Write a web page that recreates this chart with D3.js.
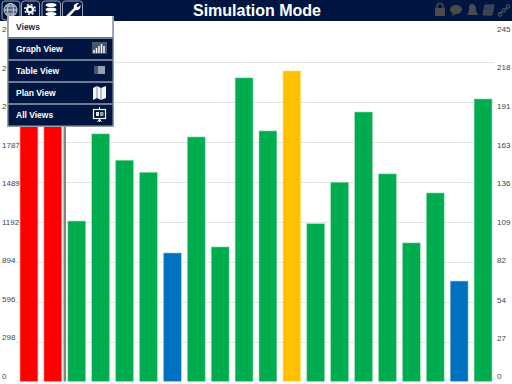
<!DOCTYPE html>
<html>
<head>
<meta charset="utf-8">
<script src="https://d3js.org/d3.v7.min.js"></script>
<style>
  html, body { margin: 0; padding: 0; background: #fff; overflow: hidden; }
  svg { display: block; font-family: "Liberation Sans", Arial, sans-serif; }
</style>
</head>
<body>
<script>
// Chart values
const bins = d3.range(1, 21);
const values = [2700, 2700, 1199, 1848, 1652, 1562, 961, 1825, 1006, 2265, 1870, 2317, 1179, 1488, 2011, 1550, 1036, 1408, 752, 2108];
const states = ["alarm", "alarm", "ok", "ok", "ok", "ok", "low", "ok", "ok", "ok", "ok", "warn", "ok", "ok", "ok", "ok", "ok", "ok", "low", "ok"];
const leftTicks = [0, 298, 596, 894, 1192, 1489, 1787, 2085, 2383, 2681];
const rightTicks = [0, 27, 54, 82, 109, 136, 163, 191, 218, 245];
const menuItems = ["Graph View", "Table View", "Plan View", "All Views"];

const width = 512, height = 384;
const navy = "#001641";

const svg = d3.select("body").append("svg")
  .attr("width", width)
  .attr("height", height);

// Scales
const x = d3.scaleBand().domain(bins).range([20, 492]).paddingInner(0.25).paddingOuter(0);
const y = d3.scaleLinear().domain([0, 2681]).range([382, 22]);
const color = d3.scaleOrdinal()
  .domain(["alarm", "ok", "low", "warn"])
  .range(["#ff0000", "#00ad4e", "#0070c0", "#ffc000"]);
const edge = d3.scaleOrdinal()
  .domain(["alarm", "ok", "low", "warn"])
  .range(["#ffb0b0", "#a6dfbd", "#b0cfee", "#ffeeb8"]);

// The tick labels do not sit on the gridlines in the original, they have their own spacing
const labelLeft = d3.scaleLinear().domain([0, 2681]).range([376, 29]);
const labelRight = d3.scaleLinear().domain([0, 245]).range([376, 29]);

// Gridlines
svg.append("g")
  .attr("transform", "translate(16,0)")
  .call(d3.axisRight(y).tickValues(leftTicks.slice(1, -1)).tickSize(478).tickFormat(""))
  .call(g => g.select(".domain").remove())
  .selectAll("line")
  .attr("stroke", "#e3e3e3")
  .attr("stroke-width", 1);

// Axis labels
svg.append("g")
  .call(d3.axisRight(labelLeft).tickValues(leftTicks).tickSize(0).tickPadding(2).tickFormat(d3.format("d")))
  .call(g => g.select(".domain").remove())
  .selectAll("text")
  .attr("font-size", 8)
  .attr("font-family", "Liberation Sans")
  .attr("fill", "#444");

svg.append("g")
  .call(d3.axisRight(labelRight).tickValues(rightTicks).tickSize(0).tickPadding(497).tickFormat(d3.format("d")))
  .call(g => g.select(".domain").remove())
  .selectAll("text")
  .attr("font-size", 8)
  .attr("font-family", "Liberation Sans")
  .attr("fill", "#444");

// Bars
svg.append("g").selectAll("rect")
  .data(bins)
  .join("rect")
  .attr("x", d => x(d))
  .attr("y", (d, i) => y(values[i]))
  .attr("width", x.bandwidth())
  .attr("height", (d, i) => y(0) - y(values[i]) - 0.5)
  .attr("fill", (d, i) => color(states[i]))
  .attr("stroke", (d, i) => edge(states[i]))
  .attr("stroke-width", 0.6);

// Divider after the second bar
svg.append("rect")
  .attr("x", 63.5).attr("y", 22)
  .attr("width", 2.5).attr("height", 359.5)
  .attr("fill", "#848484");

// Header
svg.append("rect").attr("width", width).attr("height", 21).attr("fill", navy);
svg.append("text")
  .attr("x", 257).attr("y", 15.5)
  .attr("text-anchor", "middle")
  .attr("font-size", 16)
  .attr("font-weight", "bold")
  .attr("fill", "#fff")
  .text("Simulation Mode");

// Header buttons top left
const btn = svg.append("g");
[[1.5, 18], [21, 18], [41.5, 18.5], [62, 20]].forEach(b => {
  btn.append("rect")
    .attr("x", b[0] + 0.5).attr("y", 1)
    .attr("width", b[1]).attr("height", 19).attr("rx", 3)
    .attr("fill", navy).attr("stroke", "#9aa3b4").attr("stroke-width", 1);
});
// globe
const globe = btn.append("g").attr("fill", "none").attr("stroke", "#c4cad6").attr("stroke-width", 1);
globe.append("circle").attr("cx", 10.5).attr("cy", 10).attr("r", 6.5).attr("fill", "#5c6780");
globe.append("ellipse").attr("cx", 10.5).attr("cy", 10).attr("rx", 3).attr("ry", 6.5);
globe.append("path").attr("d", "M4 10H17M5.5 6H15.5M5.5 14H15.5");
// gear
btn.append("circle").attr("cx", 30).attr("cy", 9.5).attr("r", 3)
  .attr("fill", "none").attr("stroke", "#fff").attr("stroke-width", 2.4);
btn.append("circle").attr("cx", 30).attr("cy", 9.5).attr("r", 5.2)
  .attr("fill", "none").attr("stroke", "#fff").attr("stroke-width", 1.4).attr("stroke-dasharray", "2 2.1");
// database
[5, 9.5, 14].forEach(cy => {
  btn.append("ellipse").attr("cx", 51).attr("cy", cy).attr("rx", 5.5).attr("ry", 2).attr("fill", "#fff");
});
// wrench
btn.append("path")
  .attr("d", "M66 16L74 8C73 5 75.5 2.5 79 3L76.5 5.5L78 7.5L80.5 5C81 8.5 78.5 11 75.5 10L68 18Z")
  .attr("fill", "#fff");

// Status icons top right
const icons = svg.append("g").attr("fill", "#4c4c4c");
icons.append("rect").attr("x", 435).attr("y", 8).attr("width", 10).attr("height", 8).attr("rx", 1);
icons.append("path").attr("d", "M437 8V6.5a3 3 0 0 1 6 0V8").attr("fill", "none").attr("stroke", "#4c4c4c").attr("stroke-width", 1.5);
icons.append("ellipse").attr("cx", 456).attr("cy", 9.5).attr("rx", 6).attr("ry", 4.5);
icons.append("path").attr("d", "M453 12L452 16L458 13Z");
icons.append("path").attr("d", "M472 4C475 4 476 7 476 10C476 12 477 13 478 15H467C468 13 469 12 469 10C469 7 469 4 472 4Z");
icons.append("path").attr("d", "M485 5H494L492 15H483Z").attr("fill", "#39425a").attr("stroke", "#4c4c4c").attr("stroke-width", 1);
icons.append("path").attr("d", "M499 14L503 11M504.5 10L508 7")
  .attr("stroke", "#4c4c4c").attr("stroke-width", 1.2).attr("fill", "none");
[[500, 14.5], [504, 10.5], [508, 6.5]].forEach(c => {
  icons.append("circle").attr("cx", c[0]).attr("cy", c[1]).attr("r", 1.8)
    .attr("fill", "none").attr("stroke", "#5a5a5a").attr("stroke-width", 1);
});

// Views menu
const menu = svg.append("g");
menu.append("rect").attr("x", 7).attr("y", 16).attr("width", 107).attr("height", 111).attr("fill", "#9a9ea6");
menu.append("rect").attr("x", 8.5).attr("y", 16).attr("width", 104).attr("height", 109.5).attr("fill", navy);
menu.append("rect").attr("x", 8.5).attr("y", 16).attr("width", 104).attr("height", 21).attr("fill", "#fff");
menu.append("text")
  .attr("x", 16).attr("y", 30)
  .attr("font-size", 8.5).attr("font-weight", "bold").attr("fill", "#1d2a45")
  .text("Views");

const rowY = d3.scaleBand().domain(menuItems).range([37.5, 125.5]);
menu.selectAll("line.sep")
  .data(menuItems)
  .join("line")
  .attr("class", "sep")
  .attr("x1", 8.5).attr("x2", 112.5)
  .attr("y1", d => rowY(d) + 0.5).attr("y2", d => rowY(d) + 0.5)
  .attr("stroke", "#dfe3ea").attr("stroke-width", 1);
menu.selectAll("text.item")
  .data(menuItems)
  .join("text")
  .attr("class", "item")
  .attr("x", 16)
  .attr("y", d => rowY(d) + 14.5)
  .attr("font-size", 8.5).attr("font-weight", "bold").attr("fill", "#fff")
  .text(d => d);

// menu icons: graph
menu.append("rect").attr("x", 92).attr("y", 42).attr("width", 15).attr("height", 12).attr("fill", "#4a5570");
menu.append("path")
  .attr("d", "M94 53V50M96.5 53V48M99 53V46M101.5 53V44M104 53V46")
  .attr("stroke", "#fff").attr("stroke-width", 1.4).attr("fill", "none");
// table
menu.append("rect").attr("x", 94).attr("y", 66).attr("width", 11).attr("height", 8).attr("fill", "#9a9fac");
menu.append("rect").attr("x", 94).attr("y", 66).attr("width", 4).attr("height", 8).attr("fill", "#4a5570");
// plan
menu.append("path").attr("d", "M93 88L97 86L101 88L106 86V98L101 100L97 98L93 100Z").attr("fill", "#f4f4f4");
menu.append("path").attr("d", "M97 86V98M101 88V100").attr("stroke", "#6a7285").attr("stroke-width", 0.8);
// all views
menu.append("rect").attr("x", 93.5).attr("y", 109.5).attr("width", 12).attr("height", 9)
  .attr("fill", navy).attr("stroke", "#fff").attr("stroke-width", 1.2);
menu.append("rect").attr("x", 96).attr("y", 112).attr("width", 3).attr("height", 4).attr("fill", "#e6e6e6");
menu.append("rect").attr("x", 100).attr("y", 112).attr("width", 3.5).attr("height", 4).attr("fill", "#9a9fac");
menu.append("path").attr("d", "M99.5 107V109M99.5 119V122M97.5 122L99.5 119L101.5 122")
  .attr("stroke", "#fff").attr("stroke-width", 0.9).attr("fill", "none");
</script>
</body>
</html>
